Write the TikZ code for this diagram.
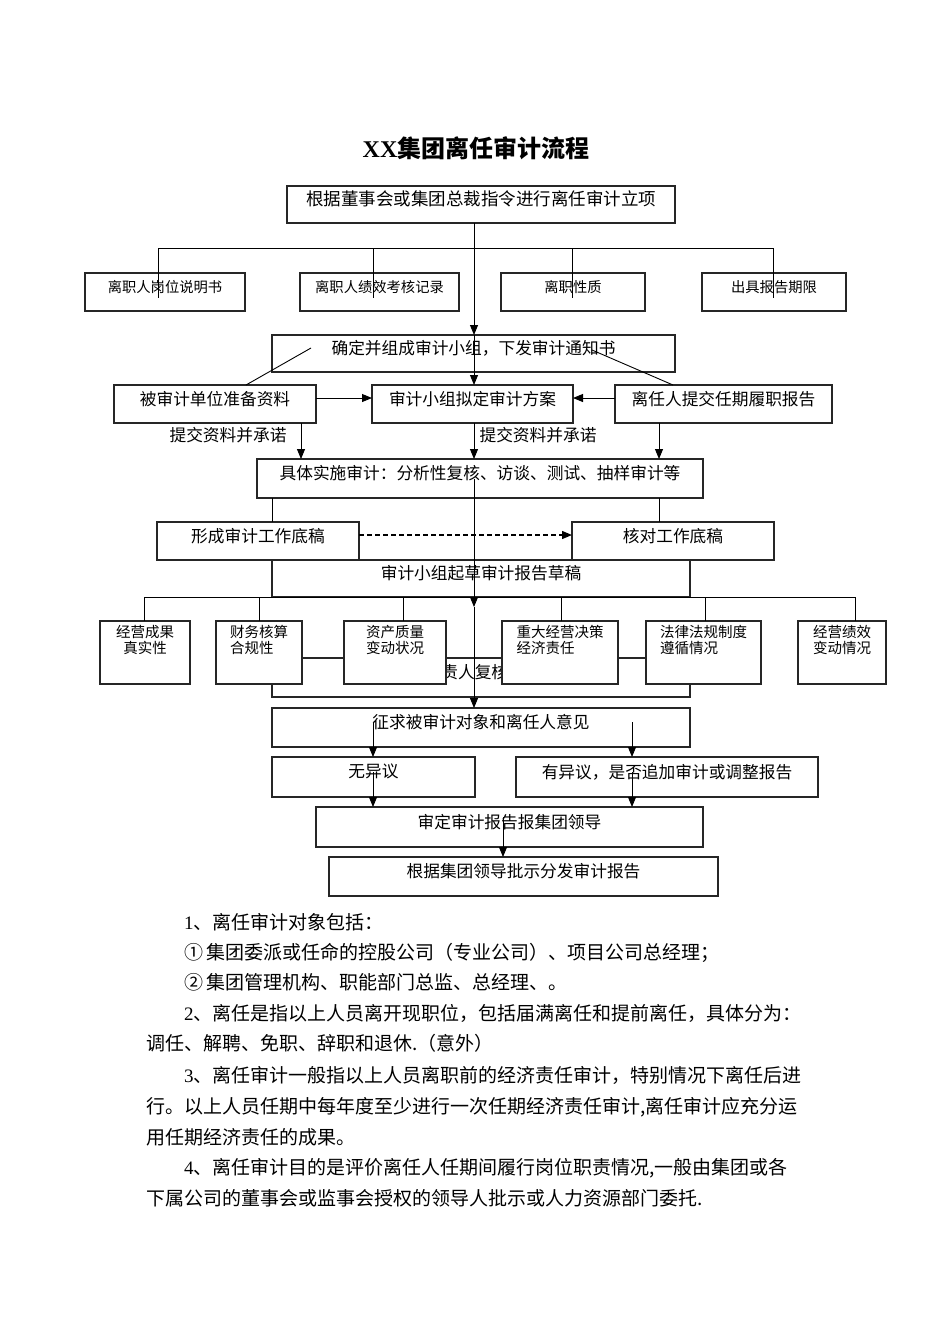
\documentclass[tikz,border=0pt]{standalone}
\usepackage{fontspec}
\setmainfont{Noto Sans CJK SC}
\newfontfamily\latinfont{Liberation Serif}
\usetikzlibrary{arrows.meta}

\begin{document}
\begin{tikzpicture}[x=1pt,y=-1pt]
\tikzset{box/.style={draw=black!85,line width=1.1pt,fill=white,inner sep=0pt,outer sep=0pt,text depth=12pt,font=\fontsize{16.7pt}{20pt}\selectfont}}
\tikzset{small/.style={box,font=\fontsize{14.3pt}{17pt}\selectfont}}
\tikzset{item/.style={box,minimum height=63pt,text depth=26pt,font=\fontsize{14.5pt}{16.5pt}\selectfont}}
\tikzset{line/.style={line width=0.9pt}}
\tikzset{arr/.style={line,-{Triangle[length=10pt,width=8pt]}}}
\tikzset{lbl/.style={inner sep=0pt,font=\fontsize{16.7pt}{20pt}\selectfont}}
\tikzset{para/.style={anchor=west,inner sep=0pt,font=\fontsize{19pt}{23pt}\selectfont}}

\fill[white] (0,0) rectangle (950,1344);
\useasboundingbox (0,0) rectangle (950,1344);

\node[inner sep=0pt,font=\fontsize{24pt}{28pt}\selectfont\bfseries] (title) at (476,148) {{\latinfont XX}集团离任审计流程};

% top of the flow
\node[box,minimum width=388pt,minimum height=37pt,font=\fontsize{17.5pt}{20pt}\selectfont] (start) at (481,204.5) {根据董事会或集团总裁指令进行离任审计立项};
\node[small,minimum width=160pt,minimum height=38pt] (post) at (165,292) {离职人岗位说明书};
\node[small,minimum width=159pt,minimum height=38pt] (perf) at (379.5,292) {离职人绩效考核记录};
\node[small,minimum width=144pt,minimum height=38pt] (nature) at (573,292) {离职性质};
\node[small,minimum width=144pt,minimum height=38pt] (term) at (774,292) {出具报告期限};
\node[box,minimum width=403pt,minimum height=37pt] (notice) at (473.5,353.5) {确定并组成审计小组，下发审计通知书};

\node[box,minimum width=202pt,minimum height=38pt] (prep) at (215,404) {被审计单位准备资料};
\node[box,minimum width=201pt,minimum height=38pt] (plan) at (472.5,404) {审计小组拟定审计方案};
\node[box,minimum width=217pt,minimum height=38pt] (duty) at (723.5,404) {离任人提交任期履职报告};
\node[lbl] (give1) at (228,435) {提交资料并承诺};
\node[lbl] (give2) at (538,435) {提交资料并承诺};

\node[box,minimum width=446pt,minimum height=39pt] (exec) at (480,478.5) {具体实施审计：分析性复核、访谈、测试、抽样审计等};
\node[box,minimum width=418pt,minimum height=37pt] (report) at (481,578.5) {审计小组起草审计报告草稿};
\node[box,minimum width=202pt,minimum height=38pt] (draft) at (258,541) {形成审计工作底稿};
\node[box,minimum width=202pt,minimum height=38pt] (check) at (673,541) {核对工作底稿};

% review box sits behind the six items
\node[box,minimum width=418pt,minimum height=39pt] (review) at (481,677.5) {审计小组负责人复核\hspace*{96pt}};
\node[item,minimum width=90pt,align=center] (truth) at (145,652.5) {经营成果\\真实性};
\node[item,minimum width=86pt,align=left] (comply) at (259,652.5) {财务核算\\合规性};
\node[item,minimum width=102pt,align=center] (asset) at (395,652.5) {资产质量\\变动状况};
\node[item,minimum width=116pt,align=left] (decide) at (560,652.5) {重大经营决策\\经济责任};
\node[item,minimum width=115pt,align=left] (law) at (703.5,652.5) {法律法规制度\\遵循情况};
\node[item,minimum width=88pt,align=center] (result) at (842,652.5) {经营绩效\\变动情况};

\node[box,minimum width=418pt,minimum height=39pt] (opinion) at (481,727.5) {征求被审计对象和离任人意见};
\node[box,minimum width=203pt,minimum height=40pt] (agree) at (373.5,777) {无异议};
\node[box,minimum width=302pt,minimum height=40pt] (dispute) at (667,777) {有异议，是否追加审计或调整报告};
\node[box,minimum width=387pt,minimum height=40pt] (approve) at (509.5,827) {审定审计报告报集团领导};
\node[box,minimum width=389pt,minimum height=39pt] (issue) at (523.5,876.5) {根据集团领导批示分发审计报告};

% connectors
\coordinate (trunk) at (474,0);
\coordinate (tip) at (474,607);
\draw[arr] (start.south -| trunk) -- (notice.north -| trunk);
\draw[arr] (notice.north -| trunk) -- (plan.north -| trunk);
\draw[arr] (plan.south -| trunk) -- (exec.north -| trunk);
\draw[arr] (exec.center -| trunk) -- (tip);
\draw[arr] (tip) -- (opinion.north -| trunk);

\coordinate (bus1) at (158,248);
\coordinate (bus1e) at (773,248);
\draw[line] (bus1) -- (bus1e);
\foreach \x [count=\i] in {158,373,572,773} {
  \coordinate (d\i) at (\x,298);
  \draw[line] (d\i |- bus1) -- (d\i);
}

\coordinate (sl1) at (311,348);
\coordinate (sl2) at (246,385);
\coordinate (sr1) at (592,350);
\coordinate (sr2) at (673,385);
\draw[line] (sl1) -- (sl2);
\draw[line] (sr1) -- (sr2);

\draw[arr] ([yshift=6pt]prep.east) -- ([yshift=6pt]plan.west);
\draw[arr] ([yshift=6pt]duty.west) -- ([yshift=6pt]plan.east);
\coordinate (lcol) at (301,0);
\coordinate (rcol) at (659,0);
\coordinate (dcol) at (272,0);
\draw[arr] (prep.south -| lcol) -- (exec.north -| lcol);
\draw[arr] (duty.south -| rcol) -- (exec.north -| rcol);
\draw[line] (exec.south -| dcol) -- (draft.north -| dcol);
\draw[line] (exec.south -| rcol) -- (check.north -| rcol);
\draw[arr,line width=1.3pt,dash pattern=on 5pt off 3pt] ([yshift=6pt]draft.east) -- ([yshift=6pt]check.west);

\coordinate (bus2) at (144,597);
\coordinate (bus2e) at (855,597);
\draw[line] (bus2) -- (bus2e);
\foreach \x [count=\i] in {144,259,403,561,705,855} {
  \coordinate (e\i) at (\x,621);
  \draw[line] (e\i |- bus2) -- (e\i);
}

\coordinate (o1) at (373,723);
\coordinate (o2) at (632,722);
\coordinate (n1) at (373,772);
\coordinate (n2) at (632,772);
\coordinate (c1) at (503,817);
\draw[arr] (o1) -- (agree.north -| o1);
\draw[arr] (o2) -- (dispute.north -| o2);
\draw[arr] (n1) -- (approve.north -| n1);
\draw[arr] (n2) -- (approve.north -| n2);
\draw[arr] (c1) -- (issue.north -| c1);

% notes below
\node[para] (p1) at (184,922) {{\latinfont 1}、离任审计对象包括：};
\node[para] (p2) at (184,953) {①\,集团委派或任命的控股公司（专业公司）、项目公司总经理；};
\node[para] (p3) at (184,982) {②\,集团管理机构、职能部门总监、总经理、。};
\node[para] (p4) at (184,1013) {{\latinfont 2}、离任是指以上人员离开现职位，包括届满离任和提前离任，具体分为：};
\node[para] (p5) at (146,1043) {调任、解聘、免职、辞职和退休.（意外）};
\node[para] (p6) at (184,1075) {{\latinfont 3}、离任审计一般指以上人员离职前的经济责任审计，特别情况下离任后进};
\node[para] (p7) at (146,1107) {行。以上人员任期中每年度至少进行一次任期经济责任审计,离任审计应充分运};
\node[para] (p8) at (146,1137) {用任期经济责任的成果。};
\node[para] (p9) at (184,1168) {{\latinfont 4}、离任审计目的是评价离任人任期间履行岗位职责情况,一般由集团或各};
\node[para] (p10) at (146,1198) {下属公司的董事会或监事会授权的领导人批示或人力资源部门委托.};
\end{tikzpicture}
\end{document}
